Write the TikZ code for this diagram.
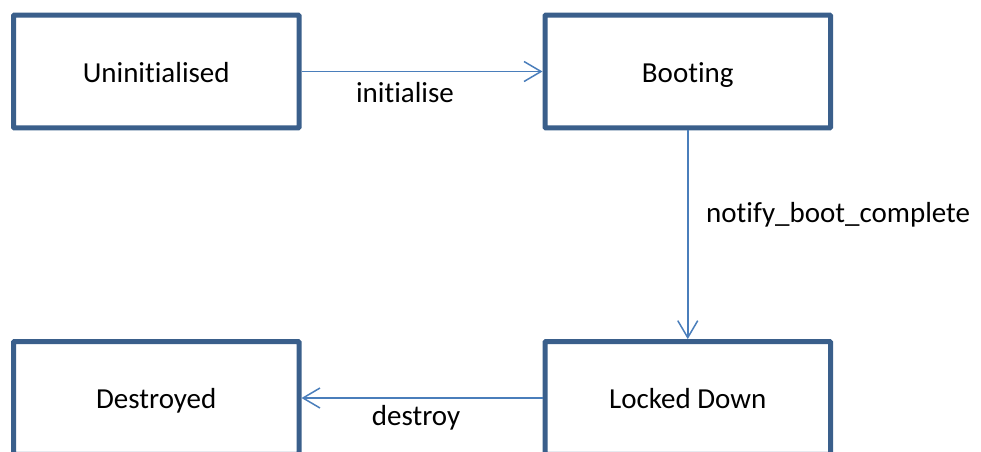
\documentclass[tikz,border=0pt]{standalone}
\usepackage{fontspec}
\setmainfont{Carlito}[RawFeature={-liga}]
\usetikzlibrary{arrows.meta}
\definecolor{boxline}{HTML}{3A5F8B}
\definecolor{flow}{HTML}{4A7EBB}
\tikzset{
  state/.style={draw=boxline, line width=5pt, fill=white, rounded corners=0.8pt,
    minimum width=285.5pt, minimum height=112.8pt, inner sep=0pt,
    text height=21pt, text depth=0pt, font=\fontsize{29}{35}\selectfont},
  transition/.style={draw=flow, line width=1.5pt,
    -{Straight Barb[length=17pt,width=20pt,line width=1.5pt]}},
  translabel/.style={anchor=base, inner sep=0pt, font=\fontsize{29}{35}\selectfont}
}
\begin{document}
\begin{tikzpicture}[x=1pt,y=-1pt]
  \useasboundingbox (0,0) rectangle (981,451);
  \clip (0,0) rectangle (981,451);
  % states
  \node[state] (uninit) at (156.25,71.5) {Uninitialised};
  \node[state] (boot)   at (687.75,71.5) {Booting};
  \node[state] (dead)   at (156.25,398) {Destroyed};
  \node[state] (locked) at (687.75,398) {Locked Down};
  % transitions
  \draw[transition] (uninit.east) -- (boot.west);
  \draw[transition] (boot.south) -- (locked.north);
  \draw[transition] (locked.west) -- (dead.east);
  % transition names
  \node[translabel] (lblinit) at (405,102.5) {initialise};
  \node[translabel, anchor=base west] (lblboot) at (706,222) {notify\_boot\_complete};
  \node[translabel] (lbldestroy) at (416,425) {destroy};
\end{tikzpicture}
\end{document}
